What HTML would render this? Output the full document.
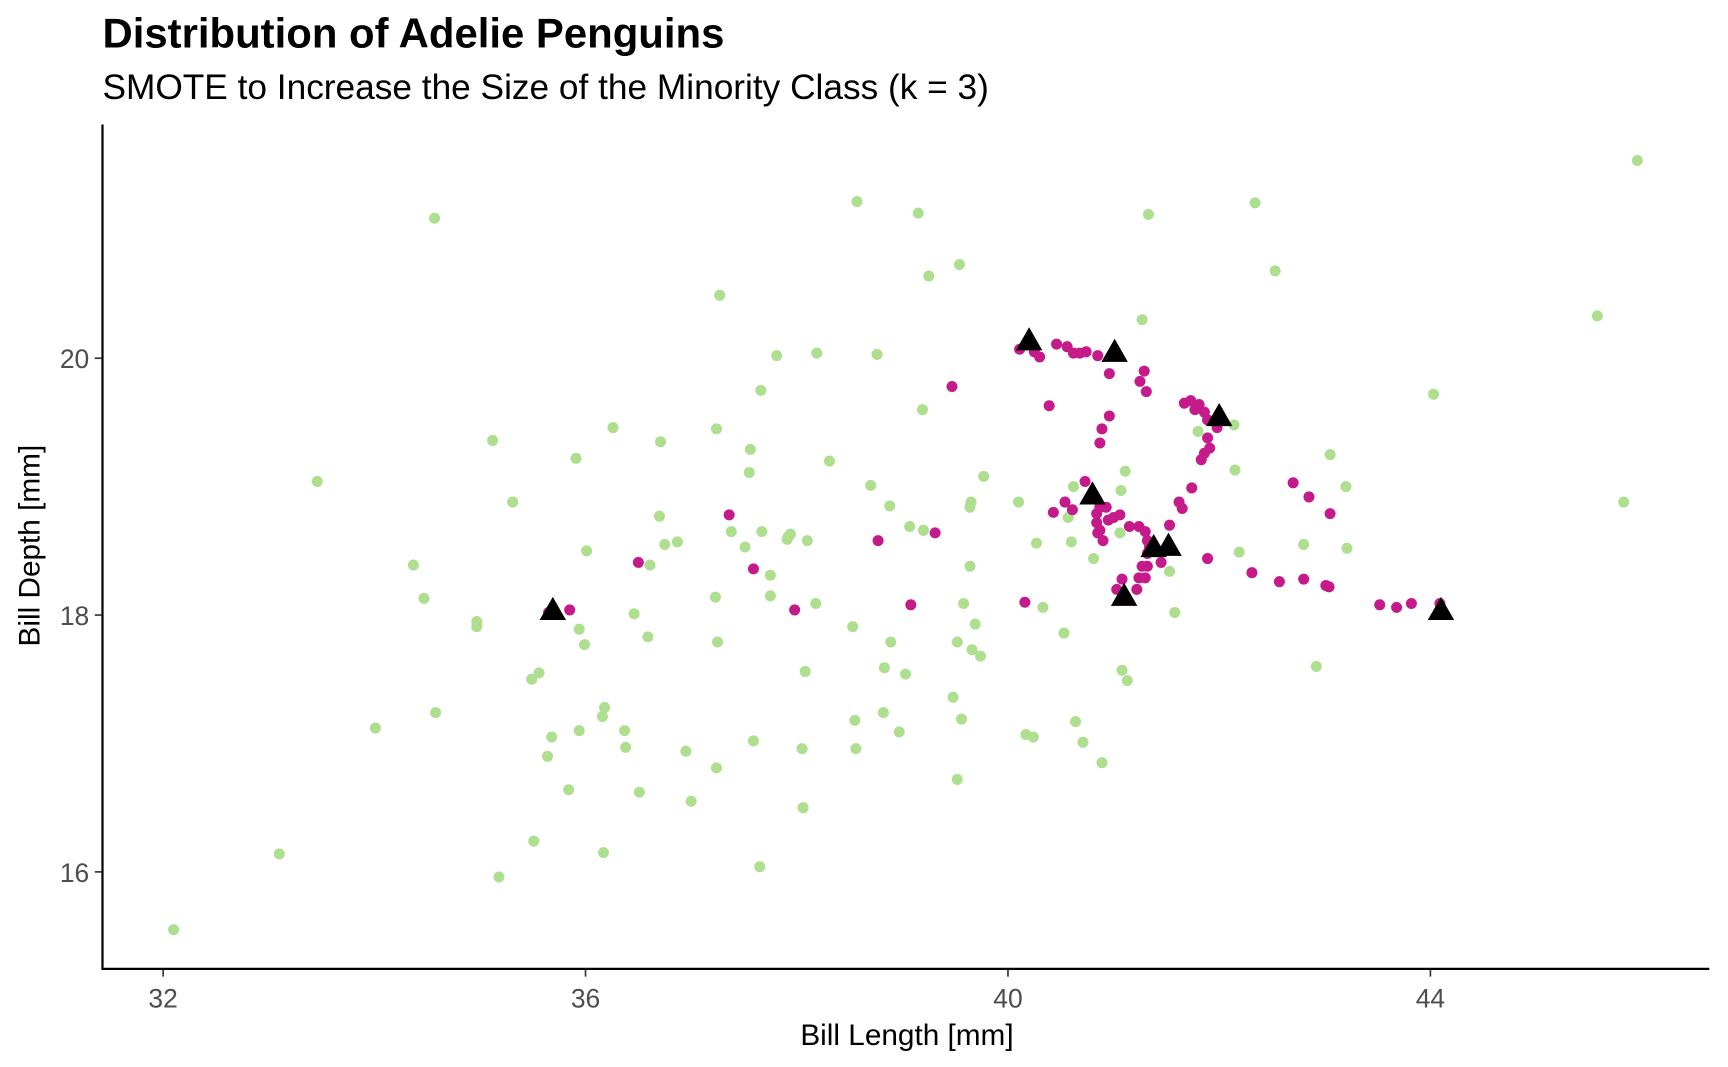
<!DOCTYPE html>
<html><head><meta charset="utf-8"><style>html,body{margin:0;padding:0;background:#fff}svg{display:block}</style></head>
<body>
<svg id="chart" width="1728" height="1067" viewBox="0 0 1568 968" preserveAspectRatio="none" xmlns="http://www.w3.org/2000/svg" font-family="Liberation Sans, sans-serif">
<text x="93" y="43" font-size="38" font-weight="bold" fill="#000">Distribution of Adelie Penguins</text>
<text x="93" y="90" font-size="32" fill="#000">SMOTE to Increase the Size of the Minority Class (k = 3)</text>
<g id="marks"></g>
<g id="axes"></g>
<text x="823" y="948" font-size="27" text-anchor="middle" fill="#000">Bill Length [mm]</text>
<text transform="translate(36,495) rotate(-90)" font-size="27" text-anchor="middle" fill="#000">Bill Depth [mm]</text>
</svg>
<script>
const xTicks = [32, 36, 40, 44];
const yTicks = [16, 18, 20];
const majority = [[45.96,21.54],[34.57,21.09],[38.57,21.22],[39.15,21.13],[42.34,21.21],[41.33,21.12],[42.53,20.68],[39.54,20.73],[39.25,20.64],[37.27,20.49],[41.27,20.30],[45.58,20.33],[37.81,20.02],[38.19,20.04],[38.76,20.03],[37.66,19.75],[44.03,19.72],[39.19,19.60],[36.26,19.46],[37.24,19.45],[35.12,19.36],[36.71,19.35],[42.14,19.48],[41.80,19.43],[37.56,19.29],[35.91,19.22],[38.31,19.20],[43.05,19.25],[37.55,19.11],[42.15,19.13],[41.11,19.12],[39.77,19.08],[33.46,19.04],[38.70,19.01],[40.62,19.00],[43.20,19.00],[41.07,18.97],[39.65,18.88],[35.31,18.88],[38.88,18.85],[40.10,18.88],[45.83,18.88],[36.70,18.77],[39.64,18.84],[40.57,18.76],[37.38,18.65],[37.67,18.65],[39.20,18.66],[39.07,18.69],[37.92,18.61],[37.94,18.63],[37.91,18.59],[38.10,18.58],[36.87,18.57],[36.75,18.55],[40.27,18.56],[41.06,18.64],[42.80,18.55],[40.60,18.57],[37.51,18.53],[43.21,18.52],[42.19,18.49],[36.01,18.50],[34.37,18.39],[36.61,18.39],[40.81,18.44],[39.64,18.38],[37.75,18.31],[41.53,18.34],[34.47,18.13],[37.23,18.14],[37.75,18.15],[38.18,18.09],[39.58,18.09],[40.33,18.06],[36.46,18.01],[34.97,17.95],[34.97,17.91],[35.94,17.89],[35.99,17.77],[36.59,17.83],[40.53,17.86],[41.58,18.02],[39.69,17.93],[38.53,17.91],[38.89,17.79],[39.52,17.79],[39.66,17.73],[39.74,17.68],[37.25,17.79],[35.56,17.55],[35.49,17.50],[38.08,17.56],[38.83,17.59],[39.03,17.54],[42.92,17.60],[41.08,17.57],[41.13,17.49],[39.48,17.36],[36.18,17.28],[36.16,17.21],[34.58,17.24],[34.01,17.12],[36.37,17.10],[35.94,17.10],[35.68,17.05],[40.64,17.17],[38.55,17.18],[38.82,17.24],[38.97,17.09],[39.56,17.19],[40.17,17.07],[40.24,17.05],[40.71,17.01],[37.59,17.02],[36.38,16.97],[36.95,16.94],[38.05,16.96],[38.56,16.96],[35.64,16.90],[40.89,16.85],[37.24,16.81],[39.52,16.72],[35.84,16.64],[36.51,16.62],[37.00,16.55],[38.06,16.50],[35.51,16.24],[33.10,16.14],[36.17,16.15],[37.65,16.04],[35.18,15.96],[32.10,15.55]];
const synthetic = [[40.11,20.07],[40.30,20.01],[40.25,20.05],[40.46,20.11],[40.56,20.09],[40.62,20.04],[40.68,20.04],[40.74,20.05],[40.85,20.02],[40.96,19.88],[41.29,19.90],[41.25,19.82],[41.31,19.74],[40.39,19.63],[40.96,19.55],[40.89,19.45],[40.87,19.34],[41.67,19.65],[41.73,19.67],[41.81,19.64],[41.77,19.60],[41.86,19.58],[41.89,19.52],[41.98,19.46],[41.89,19.38],[41.91,19.30],[41.86,19.26],[41.83,19.21],[40.73,19.04],[40.54,18.88],[40.61,18.82],[40.43,18.80],[40.84,18.90],[40.87,18.84],[40.93,18.84],[40.84,18.79],[41.00,18.76],[41.06,18.78],[40.95,18.74],[40.84,18.72],[40.87,18.66],[40.85,18.64],[40.90,18.58],[41.15,18.69],[41.24,18.69],[41.30,18.65],[41.32,18.58],[41.34,18.53],[41.53,18.70],[41.74,18.99],[41.62,18.88],[41.65,18.83],[41.32,18.48],[41.27,18.38],[41.32,18.38],[41.24,18.29],[41.30,18.29],[41.08,18.28],[41.03,18.20],[41.22,18.20],[41.45,18.41],[41.89,18.44],[42.31,18.33],[42.57,18.26],[42.80,18.28],[43.01,18.23],[43.04,18.22],[42.70,19.03],[42.85,18.92],[43.05,18.79],[40.16,18.10],[43.52,18.08],[43.68,18.06],[43.82,18.09],[44.09,18.09],[39.47,19.78],[37.36,18.78],[36.50,18.41],[37.59,18.36],[37.98,18.04],[38.77,18.58],[39.08,18.08],[39.31,18.64],[35.85,18.04],[35.65,18.02]];
const minority = [[40.20,20.13],[41.01,20.04],[42.00,19.54],[40.80,18.93],[41.38,18.52],[41.52,18.53],[41.10,18.14],[44.10,18.03],[35.69,18.03]];

const NS = 'http://www.w3.org/2000/svg';
function sx(v){ return 148 + (v - 32) * 95.83; }
function sy(v){ return 325 - (v - 20) * 116.5; }
const marks = document.getElementById('marks');
const axes = document.getElementById('axes');
function mk(tag, attrs, parent){ const e = document.createElementNS(NS, tag); for (const k in attrs) e.setAttribute(k, attrs[k]); parent.appendChild(e); return e; }

majority.forEach(p => {
  const c = mk('circle', {cx: sx(p[0]), cy: sy(p[1]), r: 5, fill: '#addf8e'}, marks);
  
  
});
synthetic.forEach(p => {
  const c = mk('circle', {cx: sx(p[0]), cy: sy(p[1]), r: 5, fill: '#c51b8a'}, marks);
  
  
});
minority.forEach(p => {
  const x = sx(p[0]), y = sy(p[1]);
  const t = mk('polygon', {points: (x-12)+','+(y+8)+' '+(x+12)+','+(y+8)+' '+x+','+(y-13), fill: '#000'}, marks);
  
  
});

const xl = mk('line', {x1: 93, y1: 879, x2: 1551, y2: 879, stroke: '#000', 'stroke-width': 2}, axes);


const yl = mk('line', {x1: 93, y1: 113, x2: 93, y2: 880, stroke: '#000', 'stroke-width': 2}, axes);


xTicks.forEach(v => {
  const x = sx(v);
  const tk = mk('line', {x1: x, y1: 880, x2: x, y2: 886, stroke: '#333', 'stroke-width': 1.5}, axes);
  
  
  const lb = mk('text', {x: x, y: 914, 'font-size': 24, 'text-anchor': 'middle', fill: '#4d4d4d'}, axes);
  lb.textContent = v;
  
  
});
yTicks.forEach(v => {
  const y = sy(v);
  const tk = mk('line', {x1: 86, y1: y, x2: 92, y2: y, stroke: '#333', 'stroke-width': 1.5}, axes);
  
  
  const lb = mk('text', {x: 81, y: y + 9, 'font-size': 24, 'text-anchor': 'end', fill: '#4d4d4d'}, axes);
  lb.textContent = v;
  
  
});
</script>
</body></html>
